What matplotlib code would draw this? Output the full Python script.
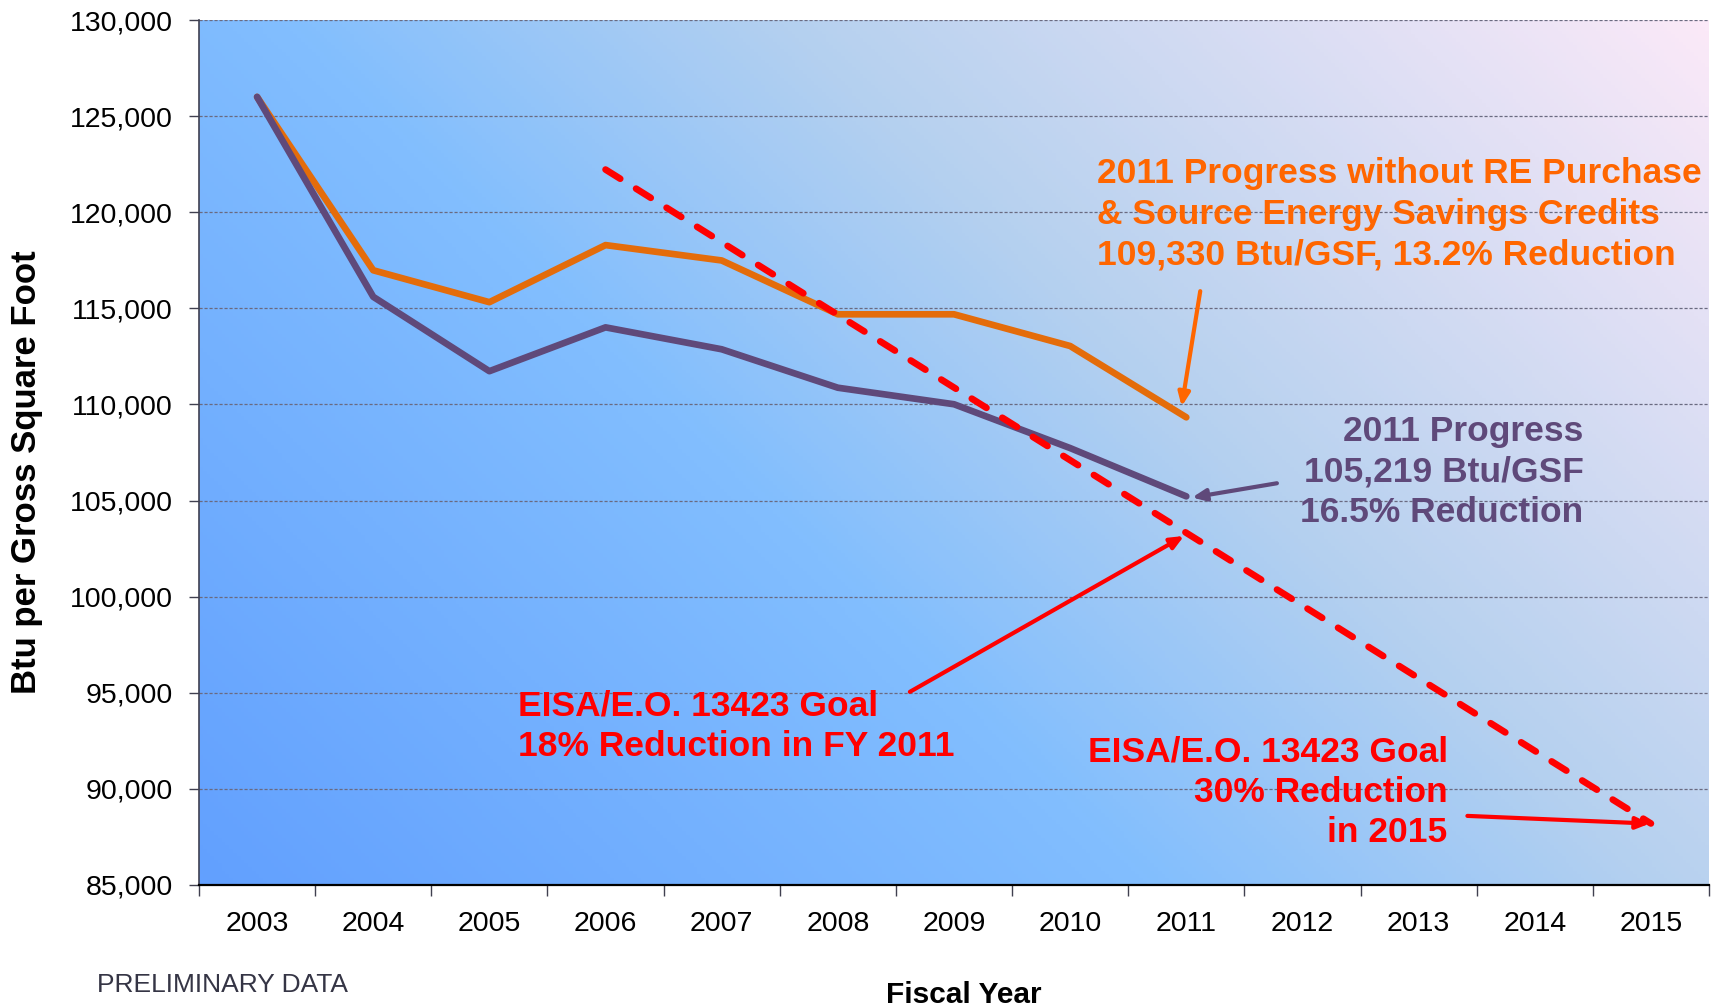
import numpy as np
import matplotlib
matplotlib.use('Agg')
import matplotlib.pyplot as plt
from matplotlib.colors import LinearSegmentedColormap

plt.rcParams['font.family'] = ['Liberation Sans', 'DejaVu Sans']

# data
years = ['2003', '2004', '2005', '2006', '2007', '2008', '2009', '2010', '2011',
         '2012', '2013', '2014', '2015']
progress = [126000, 115600, 111730, 114010, 112870, 110870, 110010, 107730, 105219]
no_credits = [126000, 116980, 115320, 118290, 117490, 114690, 114690, 113040, 109330]
goal_years = years[3:]
goal = [122220, 118440, 114660, 110880, 107100, 103320, 99540, 95760, 91980, 88200]

ORANGE_LINE = '#e46c0a'
ORANGE_TEXT = '#ff6600'
PURPLE = '#5f497a'
RED = '#ff0000'

fig = plt.figure(figsize=(17.21, 10.07), dpi=100)
ax = fig.add_axes([199 / 1721, 1 - 885 / 1007, 1510 / 1721, 865 / 1007])

# background gradient, bottom-left blue to top-right pink
W, H = 1510, 865
u = np.linspace(0, 1, 400)
v = np.linspace(0, 1, 240)
U, V = np.meshgrid(u, v)
T = (U * W + V * H) / (W + H)
cmap = LinearSegmentedColormap.from_list(
    'bg', [(0, '#62a0ff'), (0.4, '#82befe'), (0.62, '#b6d1ef'), (1, '#fbe9f8')])
ax.imshow(T, cmap=cmap, extent=[0, 1, 0, 1], origin='lower', aspect='auto',
          transform=ax.transAxes, zorder=0, vmin=0, vmax=1)

x = np.arange(len(years))
ax.set_xlim(-0.5, len(years) - 0.5)
ax.set_ylim(85000, 130000)

for yv in range(90000, 130001, 5000):
    ax.axhline(yv, color='#6a6a80', lw=0.9, ls=(0, (2.5, 1.5)), zorder=1)

ax.plot(x[:len(no_credits)], no_credits, color=ORANGE_LINE, lw=4.8,
        solid_capstyle='round', solid_joinstyle='round', zorder=3)
ax.plot(x[:len(progress)], progress, color=PURPLE, lw=4.8,
        solid_capstyle='round', solid_joinstyle='round', zorder=4)
gx = [years.index(g) for g in goal_years]
ax.plot(gx, goal, color=RED, lw=4.8, dashes=(2.6, 2.8),
        dash_capstyle='round', zorder=5)

# axes styling
for s in ['top', 'right']:
    ax.spines[s].set_visible(False)
ax.spines['left'].set_color('#404050')
ax.spines['left'].set_linewidth(1.2)
ax.spines['bottom'].set_color('black')
ax.spines['bottom'].set_linewidth(1.6)
for s in ['left', 'bottom']:
    ax.spines[s].set_zorder(6)

ax.set_yticks(range(85000, 130001, 5000))
ax.set_yticklabels([f'{v:,}' for v in range(85000, 130001, 5000)])
ax.tick_params(axis='y', length=7, width=1, color='#404050', pad=12, labelsize=20.5)

ax.set_xticks(np.arange(-0.5, len(years), 1))
ax.set_xticklabels([])
ax.tick_params(axis='x', which='major', length=8, width=1, color='#404050')
ax.set_xticks(x, minor=True)
ax.set_xticklabels(years, minor=True)
ax.tick_params(axis='x', which='minor', length=0, pad=19, labelsize=20.5)

fig.text(27 / 1721, 1 - 472 / 1007, 'Btu per Gross Square Foot', rotation=90,
         ha='center', va='center', fontsize=25, fontweight='bold')
fig.text(964 / 1721, 1 - 995 / 1007, 'Fiscal Year', ha='center', va='center',
         fontsize=21.5, fontweight='bold')
fig.text(97 / 1721, 1 - 985 / 1007, 'PRELIMINARY DATA', ha='left', va='center',
         fontsize=19, color='#353545')

# annotations
fs = 25.5
ls = 1.29
ax.text(7.23, 119900, '2011 Progress without RE Purchase\n& Source Energy Savings Credits\n'
        '109,330 Btu/GSF, 13.2% Reduction', ha='left', va='center', ma='left',
        color=ORANGE_TEXT, fontsize=fs, fontweight='bold', linespacing=ls, zorder=7)
ax.annotate('', xy=(7.96, 109897), xytext=(8.12, 115894),
            arrowprops=dict(arrowstyle='-|>,head_length=0.8,head_width=0.35',
                            color=ORANGE_TEXT, lw=3, shrinkA=0, shrinkB=0), zorder=7)

ax.text(11.42, 106470, '2011 Progress\n105,219 Btu/GSF\n16.5% Reduction',
        ha='right', va='center', ma='right', color=PURPLE, fontsize=fs,
        fontweight='bold', linespacing=ls, zorder=7)
ax.annotate('', xy=(8.05, 105157), xytext=(8.78, 105900),
            arrowprops=dict(arrowstyle='-|>,head_length=0.8,head_width=0.35',
                            color=PURPLE, lw=3, shrinkA=0, shrinkB=0), zorder=7)

ax.text(2.25, 93270, 'EISA/E.O. 13423 Goal\n18% Reduction in FY 2011',
        ha='left', va='center', ma='left', color=RED, fontsize=fs,
        fontweight='bold', linespacing=ls, zorder=7)
ax.annotate('', xy=(7.98, 103158), xytext=(5.62, 95048),
            arrowprops=dict(arrowstyle='-|>,head_length=0.8,head_width=0.35',
                            color=RED, lw=3, shrinkA=0, shrinkB=0), zorder=7)

ax.text(10.25, 89820, 'EISA/E.O. 13423 Goal\n30% Reduction\nin 2015',
        ha='right', va='center', ma='right', color=RED, fontsize=fs,
        fontweight='bold', linespacing=ls, zorder=7)
ax.annotate('', xy=(11.99, 88195), xytext=(10.42, 88595),
            arrowprops=dict(arrowstyle='-|>,head_length=0.8,head_width=0.35',
                            color=RED, lw=3, shrinkA=0, shrinkB=0), zorder=7)

fig.savefig('out.png', dpi=100)
